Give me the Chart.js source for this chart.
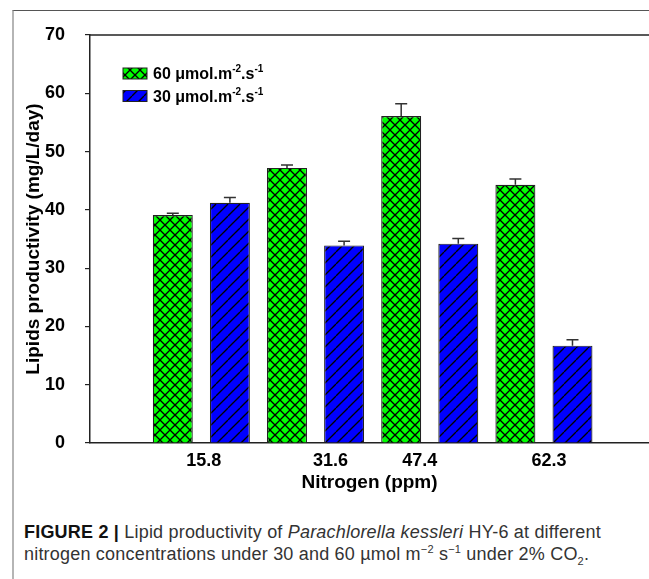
<!DOCTYPE html>
<html>
<head>
<meta charset="utf-8">
<script src="https://cdn.jsdelivr.net/npm/chart.js@4.4.1/dist/chart.umd.min.js"></script>
<style>
  html, body { margin: 0; padding: 0; background: #fff; }
  body { width: 649px; height: 579px; position: relative; overflow: hidden; font-family: "Liberation Sans", Arial, sans-serif; }
  #frame { position: absolute; left: 12px; top: 10px; right: 0; bottom: 0; border-top: 1px solid #555; border-left: 2px solid #b5b5b5; }
  #wrap { position: absolute; left: 0; top: 0; width: 649px; height: 500px; }
  #caption { position: absolute; left: 24px; top: 521px; font-size: 18px; letter-spacing: 0.2px; line-height: 22px; color: #333; white-space: nowrap; }
  #caption sup, #caption sub { font-size: 11px; line-height: 0; }
</style>
</head>
<body>
<div id="frame"></div>
<div id="wrap"><canvas id="chart" width="649" height="500"></canvas></div>
<div id="caption"><b style="color:#111">FIGURE 2 |</b> Lipid productivity of <i>Parachlorella kessleri</i> HY-6 at different<br>nitrogen concentrations under 30 and 60 µmol m<sup>−2</sup> s<sup>−1</sup> under 2% CO<sub>2</sub>.</div>
<script>
// Nitrogen levels (ppm) on the x axis
const nitrogen = ["15.8", "31.6", "47.4", "62.3"];

// series names, ^n marks a superscript
const seriesNames = ["60 \u03bcmol.m^-2.s^-1", "30 \u03bcmol.m^-2.s^-1"];

// lipid productivity (mg/L/day) and error bars
const light60 = [39.1, 47.2, 56.1, 44.3];
const light60Err = [0.3, 0.5, 2.1, 1.0];
const light30 = [41.2, 33.9, 34.2, 16.7];
const light30Err = [0.9, 0.7, 0.9, 1.0];

// the original labels sit a little off the pair centres (spaces to nudge them)
const labelNudge = [1, 6, -4, 2];

const canvas = document.getElementById("chart");
const ctx = canvas.getContext("2d");

// hatch fills: crosshatch for green, single diagonal for blue
function hatch(bg, cross, s) {
  const c = document.createElement("canvas");
  c.width = s; c.height = s;
  const g = c.getContext("2d");
  g.fillStyle = bg;
  g.fillRect(0, 0, s, s);
  g.strokeStyle = "#000";
  g.lineWidth = 1.3;
  for (const o of [-s, 0, s]) {
    g.beginPath(); g.moveTo(o, s); g.lineTo(o + s, 0); g.stroke();
    if (cross) { g.beginPath(); g.moveTo(o, 0); g.lineTo(o + s, s); g.stroke(); }
  }
  return ctx.createPattern(c, "repeat");
}

const greenFill = hatch("#00ff00", true, 10);
const blueFill = hatch("#0000ff", false, 12);
const fills = [greenFill, blueFill];
const errors = [light60Err, light30Err];

const errorBars = {
  id: "errorBars",
  afterDatasetsDraw(chart) {
    const c = chart.ctx, y = chart.scales.y;
    c.save();
    c.strokeStyle = "#333";
    c.lineWidth = 1.5;
    chart.data.datasets.forEach((ds, di) => {
      chart.getDatasetMeta(di).data.forEach((bar, i) => {
        const top = y.getPixelForValue(ds.data[i].y + errors[di][i]);
        c.beginPath();
        c.moveTo(bar.x, bar.y);
        c.lineTo(bar.x, top);
        c.moveTo(bar.x - 6, top);
        c.lineTo(bar.x + 6, top);
        c.stroke();
      });
    });
    c.restore();
  }
};

function drawLabel(c, text, x, y) {
  const parts = text.split(/\^(-?\d+)/);
  parts.forEach((p, k) => {
    if (k % 2) {
      c.font = "bold 10px 'Liberation Sans', Arial";
      c.fillText(p, x, y - 7);
    } else {
      c.font = "bold 16px 'Liberation Sans', Arial";
      c.fillText(p, x, y);
    }
    x += c.measureText(p).width;
  });
}

const frameAndLegend = {
  id: "frameAndLegend",
  afterDraw(chart) {
    const c = chart.ctx, a = chart.chartArea;
    c.save();
    // top border of the plot
    c.strokeStyle = "#222";
    c.lineWidth = 1.5;
    c.beginPath();
    c.moveTo(a.left, a.top);
    c.lineTo(a.right, a.top);
    c.stroke();
    // legend
    c.textBaseline = "alphabetic";
    seriesNames.forEach((name, i) => {
      const bx = a.left + 33, by = 68 + i * 22.5;
      c.fillStyle = fills[i];
      c.fillRect(bx, by, 24, 11);
      c.strokeStyle = "#222";
      c.lineWidth = 1;
      c.strokeRect(bx, by, 24, 11);
      c.fillStyle = "#000";
      drawLabel(c, name, bx + 30, by + 11);
    });
    c.restore();
  }
};

const boldFont = (size) => ({ family: "'Liberation Sans', Arial", size: size, weight: "bold" });

function nudged(i) {
  const n = labelNudge[i];
  const pad = "\u00a0".repeat(Math.abs(n));
  return n >= 0 ? pad + nitrogen[i] : nitrogen[i] + pad;
}

new Chart(ctx, {
  type: "bar",
  data: {
    datasets: [
      {
        label: seriesNames[0],
        data: light60.map((v, i) => ({ x: i, y: v })),
        backgroundColor: greenFill,
        borderColor: "#222",
        borderWidth: 1.2
      },
      {
        label: seriesNames[1],
        data: light30.map((v, i) => ({ x: i, y: v })),
        backgroundColor: blueFill,
        borderColor: "#222",
        borderWidth: 1.2
      }
    ]
  },
  options: {
    responsive: false,
    animation: false,
    devicePixelRatio: 1,
    barPercentage: 0.7,
    categoryPercentage: 1.0,
    layout: { padding: { left: 14, top: 35, right: 0, bottom: 0 } },
    plugins: { legend: { display: false }, tooltip: { enabled: false } },
    scales: {
      x: {
        type: "linear",
        min: -0.975,
        max: 3.92,
        offset: false,
        afterBuildTicks: (s) => { s.ticks = nitrogen.map((_, i) => ({ value: i })); },
        afterFit: (s) => { s.height = 57; },
        ticks: {
          callback: (v) => nudged(v),
          font: boldFont(18),
          color: "#000",
          padding: 7,
          maxRotation: 0,
          autoSkip: false
        },
        grid: { display: false, drawTicks: false },
        border: { display: true, color: "#222", width: 1.5 },
        title: {
          display: true,
          text: "Nitrogen (ppm)",
          font: boldFont(19),
          color: "#000",
          padding: { top: 0, bottom: 6 }
        }
      },
      y: {
        min: 0,
        max: 70,
        afterFit: (s) => { s.width = 76; },
        ticks: { stepSize: 10, font: boldFont(18), color: "#000", padding: 20 },
        grid: { drawOnChartArea: false, drawTicks: true, tickLength: 5, color: "#222", lineWidth: 1.2 },
        border: { color: "#222", width: 1.5 },
        title: {
          display: true,
          text: "Lipids productivity (mg/L/day)",
          font: boldFont(19),
          color: "#000",
          padding: { top: 8, bottom: 0 }
        }
      }
    }
  },
  plugins: [errorBars, frameAndLegend]
});
</script>
</body>
</html>
